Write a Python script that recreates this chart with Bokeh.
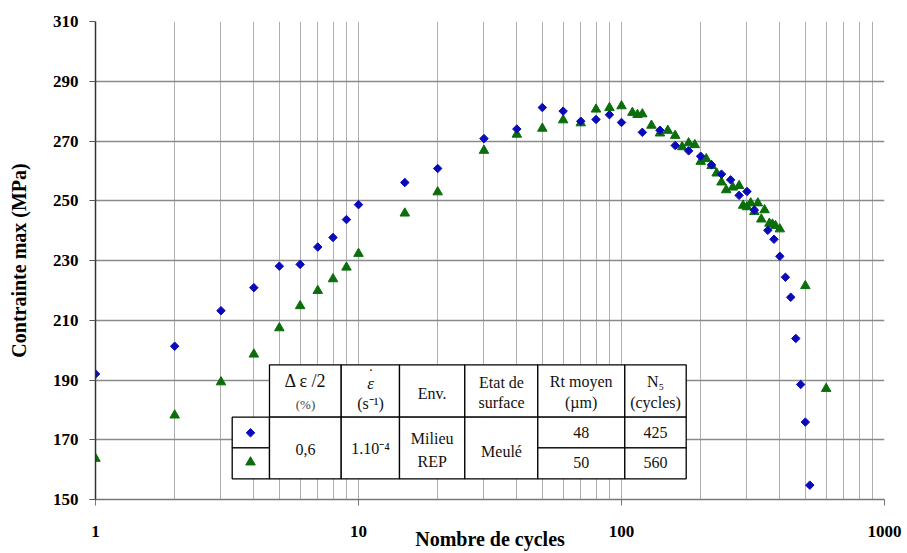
import math
from bokeh.plotting import figure
from bokeh.models import FixedTicker, Range1d
from bokeh.core.properties import value
from bokeh.embed import file_html
from bokeh.resources import INLINE

# ---------------- data ----------------
blue_cycles = [1, 2, 3, 4, 5, 6, 7, 8, 9, 10, 15, 20, 30, 40, 50, 60, 70, 80, 90, 100,
               120, 140, 160, 180, 200, 220, 240, 260, 280, 300,
               320, 360, 380, 400, 420, 440, 460, 480, 500, 520]
blue_stress = [192.0, 201.3, 213.2, 220.9, 228.1, 228.7, 234.5, 237.7, 243.7, 248.7,
               256.1, 260.8, 270.8, 274.0, 281.2, 280.0, 276.6, 277.2, 278.8, 276.2,
               272.9, 273.6, 268.5, 266.7, 264.9, 262.0, 258.9, 257.0, 251.8, 253.1,
               246.9, 240.1, 237.1, 231.4, 224.4, 217.7, 203.9, 188.5, 175.9, 154.8]

green_cycles = [1, 2, 3, 4, 5, 6, 7, 8, 9, 10, 15, 20, 30, 40, 50, 60, 70, 80, 90, 100,
                110, 115, 120, 130, 140, 150, 160, 170, 180, 190, 200, 210, 220, 230, 240, 250,
                265, 280, 290, 300, 310, 320, 330, 340, 350,
                365, 375, 385, 400, 500, 600]
green_stress = [163.7, 178.2, 189.3, 198.6, 207.4, 214.8, 219.9, 223.8, 227.7, 232.3,
                245.8, 252.9, 266.8, 272.2, 274.2, 277.0, 276.0, 280.6, 281.1, 281.7,
                279.5, 278.8, 279.0, 275.2, 272.6, 273.5, 271.8, 268.0, 269.3, 268.7,
                263.1, 264.0, 261.7, 259.2, 256.2, 253.6,
                254.5, 255.0, 248.4, 247.9, 249.2, 246.3, 249.2, 243.8, 246.9,
                242.4, 242.1, 241.6, 240.5, 221.5, 187.1]

x_ticks = [1, 10, 100, 1000]
x_tick_labels = ["1", "10", "100", "1000"]
y_ticks = [150, 170, 190, 210, 230, 250, 270, 290, 310]

BLUE = "#0a0ab9"
GREEN = "#0a6e0a"
SERIF = "Liberation Serif"

# ---------------- figure ----------------
FL, FT, FW, FH = 95, 21, 789, 478
W, H = 904, 553
p = figure(width=W, height=H, x_axis_type="log",
           x_range=Range1d(1, 1000), y_range=Range1d(150, 310),
           output_backend="svg", toolbar_location=None,
           min_border_left=FL, min_border_right=W - FL - FW,
           min_border_top=FT, min_border_bottom=H - FT - FH)
p.outline_line_color = None
p.background_fill_color = "white"
p.border_fill_color = "white"

minor = [m * 10 ** k for k in range(3) for m in range(2, 10)]
p.xaxis.ticker = FixedTicker(ticks=x_ticks, minor_ticks=minor)
p.yaxis.ticker = FixedTicker(ticks=y_ticks)
p.xaxis.major_label_overrides = {t: s for t, s in zip(x_ticks, x_tick_labels)}

p.xgrid.grid_line_color = "#b0b0b0"
p.xgrid.minor_grid_line_color = "#b0b0b0"
p.xgrid.grid_line_width = 1
p.ygrid.grid_line_color = "#8a8a8a"
p.ygrid.grid_line_width = 1.4

for ax in (p.xaxis[0], p.yaxis[0]):
    ax.major_tick_out = 6
    ax.major_tick_in = 0
    ax.minor_tick_out = 0
    ax.minor_tick_in = 0
    ax.major_label_text_font = SERIF
    ax.major_label_text_font_style = "bold"
    ax.major_label_text_font_size = "17px"
    ax.major_label_text_color = "black"
    ax.axis_label_text_font = SERIF
    ax.axis_label_text_font_style = "bold"
    ax.axis_label_text_font_size = "20px"
    ax.axis_label_text_color = "black"

p.yaxis.axis_line_color = "#333333"
p.yaxis.axis_line_width = 1.5
p.yaxis.major_tick_line_color = "#555555"
p.xaxis.axis_line_color = "#777777"
p.xaxis.axis_line_width = 1.4
p.xaxis.major_tick_line_color = "#777777"

p.yaxis.major_label_standoff = 11
p.xaxis.major_label_standoff = 20
p.yaxis.axis_label = "Contrainte max (MPa)"
p.yaxis.axis_label_standoff = 20
p.xaxis.axis_label = "Nombre de cycles"
p.xaxis.axis_label_standoff = -12

# ---------------- data marks ----------------
p.scatter(green_cycles, green_stress, marker="triangle", size=9.5,
          fill_color=GREEN, line_color=GREEN)
p.scatter(blue_cycles, blue_stress, marker="square", angle=math.pi / 4, size=6,
          fill_color=BLUE, line_color=BLUE)

# ---------------- table (layout in canvas pixels) ----------------


def dx(px):
    return 10 ** (3 * (px - FL) / FW)


def dy(py):
    return 310 - 160 * (py - FT) / FH


T0, T1, T2, T3 = 364.3, 416.7, 447.3, 478.3
C = [231.7, 269, 340.7, 399, 464.3, 537.3, 624.3, 685.7]
cells = []
for i in range(1, 7):
    cells.append((C[i], C[i + 1], T0, T1))
cells.append((C[0], C[1], T1, T2))
cells.append((C[0], C[1], T2, T3))
for i in range(1, 5):
    cells.append((C[i], C[i + 1], T1, T3))
for i in (5, 6):
    cells.append((C[i], C[i + 1], T1, T2))
    cells.append((C[i], C[i + 1], T2, T3))

p.quad(left=[dx(c[0]) for c in cells], right=[dx(c[1]) for c in cells],
       top=[dy(c[2]) for c in cells], bottom=[dy(c[3]) for c in cells],
       fill_color="white", line_color="black", line_width=1.3)

p.scatter([dx(250)], [dy(432.3)], marker="square", angle=math.pi / 4, size=6,
          fill_color=BLUE, line_color=BLUE)
p.scatter([dx(250)], [dy(461.7)], marker="triangle", size=9.5,
          fill_color=GREEN, line_color=GREEN)


def txt(items, size, style="normal", color="#111111"):
    p.text(x=[dx(a) for a, b, s in items], y=[dy(b) for a, b, s in items],
           text=[s for a, b, s in items], text_font=value(SERIF),
           text_font_size=size, text_font_style=style, text_color=color,
           text_align="center", text_baseline="middle")


txt([(305, 380, "Δ ε /2")], "18px")
txt([(305, 403.5, "(%)")], "13px", color="#444444")
txt([(370, 383, "ε")], "17px", style="italic")
txt([(370.5, 374, "˙")], "16px")
txt([(370, 403.3, "(s⁻¹)"),
     (431.7, 393.3, "Env."),
     (501, 381.7, "Etat de"), (501, 402.3, "surface"),
     (580.7, 381, "Rt moyen"), (580.7, 402.3, "(µm)"),
     (655, 381, "N₅"), (655, 402.3, "(cycles)"),
     (305, 449, "0,6"), (370, 448.3, "1.10⁻⁴"),
     (431.7, 438.3, "Milieu"), (431.7, 461, "REP"),
     (501, 450.7, "Meulé"),
     (580.7, 432.3, "48"), (580.7, 461.7, "50"),
     (655, 432.3, "425"), (655, 461.7, "560")], "16px")

open("out.html", "w").write(file_html(p, INLINE))
